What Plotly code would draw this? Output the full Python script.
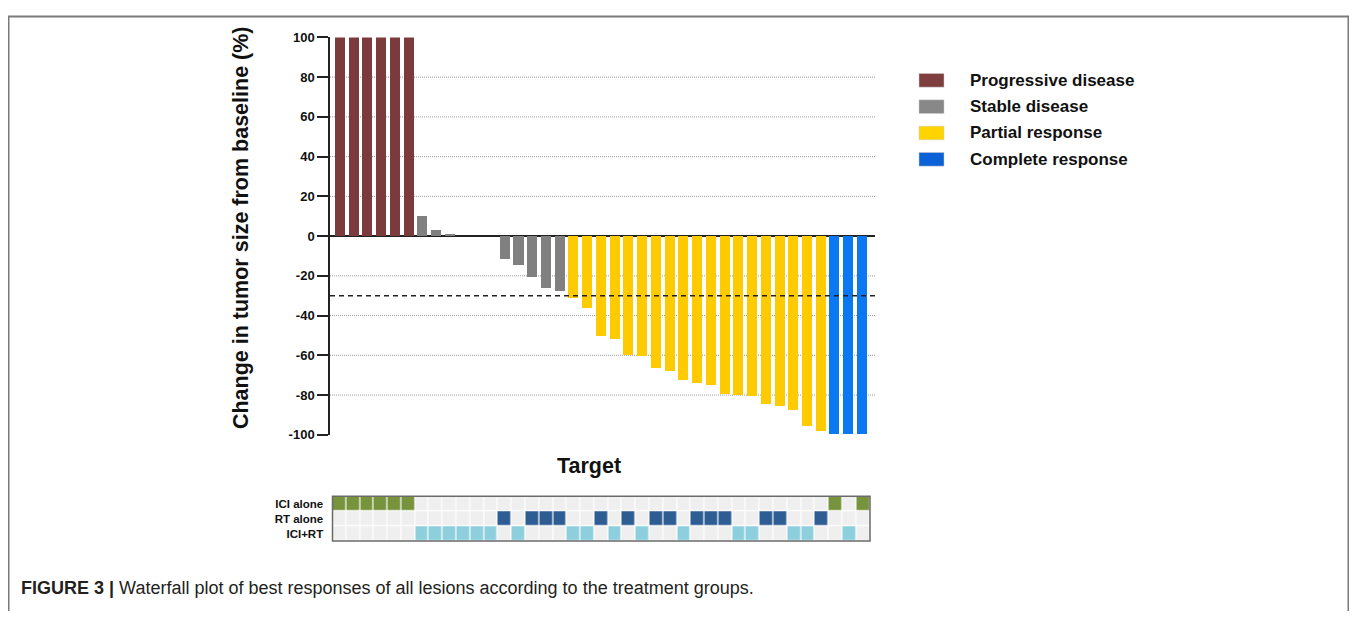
import plotly.graph_objects as go

# ---------------- data ----------------
lesion_change = [100, 100, 100, 100, 100, 100,
                 10.1, 3.1, 1.1, 0, 0, 0,
                 -11.5, -14.6, -20.8, -26.2, -27.9,
                 -31.3, -36.5, -50.6, -51.9, -60.3, -60.6, -66.5, -68.0, -72.7,
                 -74.0, -75.2, -79.5, -80.2, -80.6, -84.7, -85.8, -87.6, -96.0, -98.3,
                 -100, -100, -100]
lesion_response = (["Progressive disease"] * 6 + ["Stable disease"] * 11 +
                   ["Partial response"] * 19 + ["Complete response"] * 3)
lesion_group = (["ICI alone"] * 6 + ["ICI+RT"] * 6 +
                ["RT alone", "ICI+RT", "RT alone", "RT alone", "RT alone", "ICI+RT", "ICI+RT",
                 "RT alone", "ICI+RT", "RT alone", "ICI+RT", "RT alone", "RT alone", "ICI+RT",
                 "RT alone", "RT alone", "RT alone", "ICI+RT", "ICI+RT", "RT alone", "RT alone",
                 "ICI+RT", "ICI+RT", "RT alone", "ICI alone", "ICI+RT", "ICI alone"])
response_categories = ["Progressive disease", "Stable disease", "Partial response", "Complete response"]
group_rows = ["ICI alone", "RT alone", "ICI+RT"]
y_ticks = [100, 80, 60, 40, 20, 0, -20, -40, -60, -80, -100]
grid_values = [80, 60, 40, 20, -20, -40, -60, -80]
threshold = -30

bar_colors = {"Progressive disease": "#7b3b3d", "Stable disease": "#808080",
              "Partial response": "#fecb00", "Complete response": "#0a78f0"}
legend_colors = {"Progressive disease": "#7f3f3f", "Stable disease": "#888888",
                 "Partial response": "#ffd400", "Complete response": "#0b62d6"}
group_colors = ["#efefef", "#77933c", "#2e5d93", "#8dcfdd"]

# figure sized to sit inside the page's default 8px body margin
OX, OY = 8, 8
W, H = 1341, 603
def px(x): return (x - OX) / W
def py(y): return 1 - (y - OY) / H

n = len(lesion_change)
idx = list(range(n))

fig = go.Figure()
fig.add_trace(go.Bar(
    x=idx, y=lesion_change,
    marker=dict(color=[bar_colors[r] for r in lesion_response], line=dict(width=0)),
    width=0.73, showlegend=False, xaxis="x", yaxis="y", hoverinfo="x+y"))

# treatment-group heatmap
code = {g: i + 1 for i, g in enumerate(group_rows)}
z = [[code[g] if g == row else 0 for g in lesion_group] for row in group_rows]
cs = []
for i, c in enumerate(group_colors):
    cs.append([i / 4, c]); cs.append([(i + 1) / 4, c])
fig.add_trace(go.Heatmap(
    z=z, x=idx, y=list(range(len(group_rows))), zmin=-0.5, zmax=3.5,
    colorscale=cs, showscale=False, xgap=1.2, ygap=1.2,
    xaxis="x2", yaxis="y2", hoverinfo="skip"))

label_font = "Liberation Sans, Arial, sans-serif"

shapes = []
for g in grid_values:
    shapes.append(dict(type="line", xref="x domain", yref="y", x0=0, x1=1, y0=g, y1=g,
                       line=dict(color="#9a9a9a", width=1, dash="1px,1px"), layer="below"))
shapes.append(dict(type="line", xref="x domain", yref="y", x0=0, x1=1, y0=threshold, y1=threshold,
                   line=dict(color="#222222", width=1.5, dash="5px,4px"), layer="above"))
# heatmap outline
shapes.append(dict(type="rect", xref="x2 domain", yref="y2 domain", x0=0, x1=1, y0=0, y1=1,
                   line=dict(color="#6a6a6a", width=1.5)))
# outer figure frame
shapes.append(dict(type="rect", xref="paper", yref="paper", x0=px(8.5), x1=px(1348.5),
                   y0=-0.1, y1=py(9.5), line=dict(color="#7a7a7a", width=2)))

annotations = []
# legend
for i, r in enumerate(response_categories):
    yc = 75 + 27 * i
    shapes.append(dict(type="rect", xref="paper", yref="paper", x0=px(919), x1=px(944),
                       y0=py(yc + 7), y1=py(yc - 7), fillcolor=legend_colors[r],
                       line=dict(color="#cccccc", width=0.5)))
    annotations.append(dict(xref="paper", yref="paper", x=px(968), y=py(yc), text="<b>%s</b>" % r,
                            showarrow=False, xanchor="left", yanchor="middle",
                            font=dict(family=label_font, size=17, color="#111111")))
# axis titles
annotations.append(dict(xref="paper", yref="paper", x=px(241), y=py(226.5),
                        text="<b>Change in tumor size from baseline (%)</b>", textangle=-90,
                        showarrow=False, xanchor="center", yanchor="middle",
                        font=dict(family=label_font, size=21.5, color="#111111")))
annotations.append(dict(xref="paper", yref="paper", x=px(589), y=py(471), text="<b>Target</b>",
                        showarrow=False, xanchor="center", yanchor="middle",
                        font=dict(family=label_font, size=21.5, color="#111111")))
# caption
annotations.append(dict(xref="paper", yref="paper", x=px(19), y=py(596),
                        text="<b>FIGURE 3 |</b> Waterfall plot of best responses of all lesions according to the treatment groups.",
                        showarrow=False, xanchor="left", yanchor="middle",
                        font=dict(family=label_font, size=18, color="#231f20")))

fig.update_layout(
    width=W, height=H, margin=dict(l=0, r=0, t=0, b=0),
    paper_bgcolor="white", plot_bgcolor="white",
    bargap=0,
    xaxis=dict(domain=[px(330), px(875)], range=[-0.72, 38.95], showticklabels=False,
               showgrid=False, zeroline=False, showline=False, ticks="", anchor="y"),
    yaxis=dict(domain=[py(438.5), py(31)], range=[-100, 100], tickvals=y_ticks,
               ticktext=[str(v) for v in y_ticks], showgrid=False,
               zeroline=True, zerolinecolor="#222222", zerolinewidth=1.5,
               showline=True, linecolor="#222222", linewidth=1.5,
               ticks="outside", ticklen=11, tickwidth=1.5, tickcolor="#222222",
               tickfont=dict(family=label_font, size=13, color="#111111", weight="bold"),
               anchor="x"),
    xaxis2=dict(domain=[px(332.5), px(870)], range=[-0.5, n - 0.5], showticklabels=False,
                showgrid=False, zeroline=False, showline=False, ticks="", anchor="y2"),
    yaxis2=dict(domain=[py(547.5), py(501.5)], range=[len(group_rows) - 0.5, -0.5],
                tickvals=list(range(len(group_rows))), ticktext=group_rows,
                showgrid=False, zeroline=False, showline=False,
                ticks="outside", ticklen=6, tickcolor="rgba(0,0,0,0)",
                tickfont=dict(family=label_font, size=11.5, color="#111111", weight="bold"),
                anchor="x2"),
    shapes=shapes, annotations=annotations,
)

fig.write_html("out.html")
